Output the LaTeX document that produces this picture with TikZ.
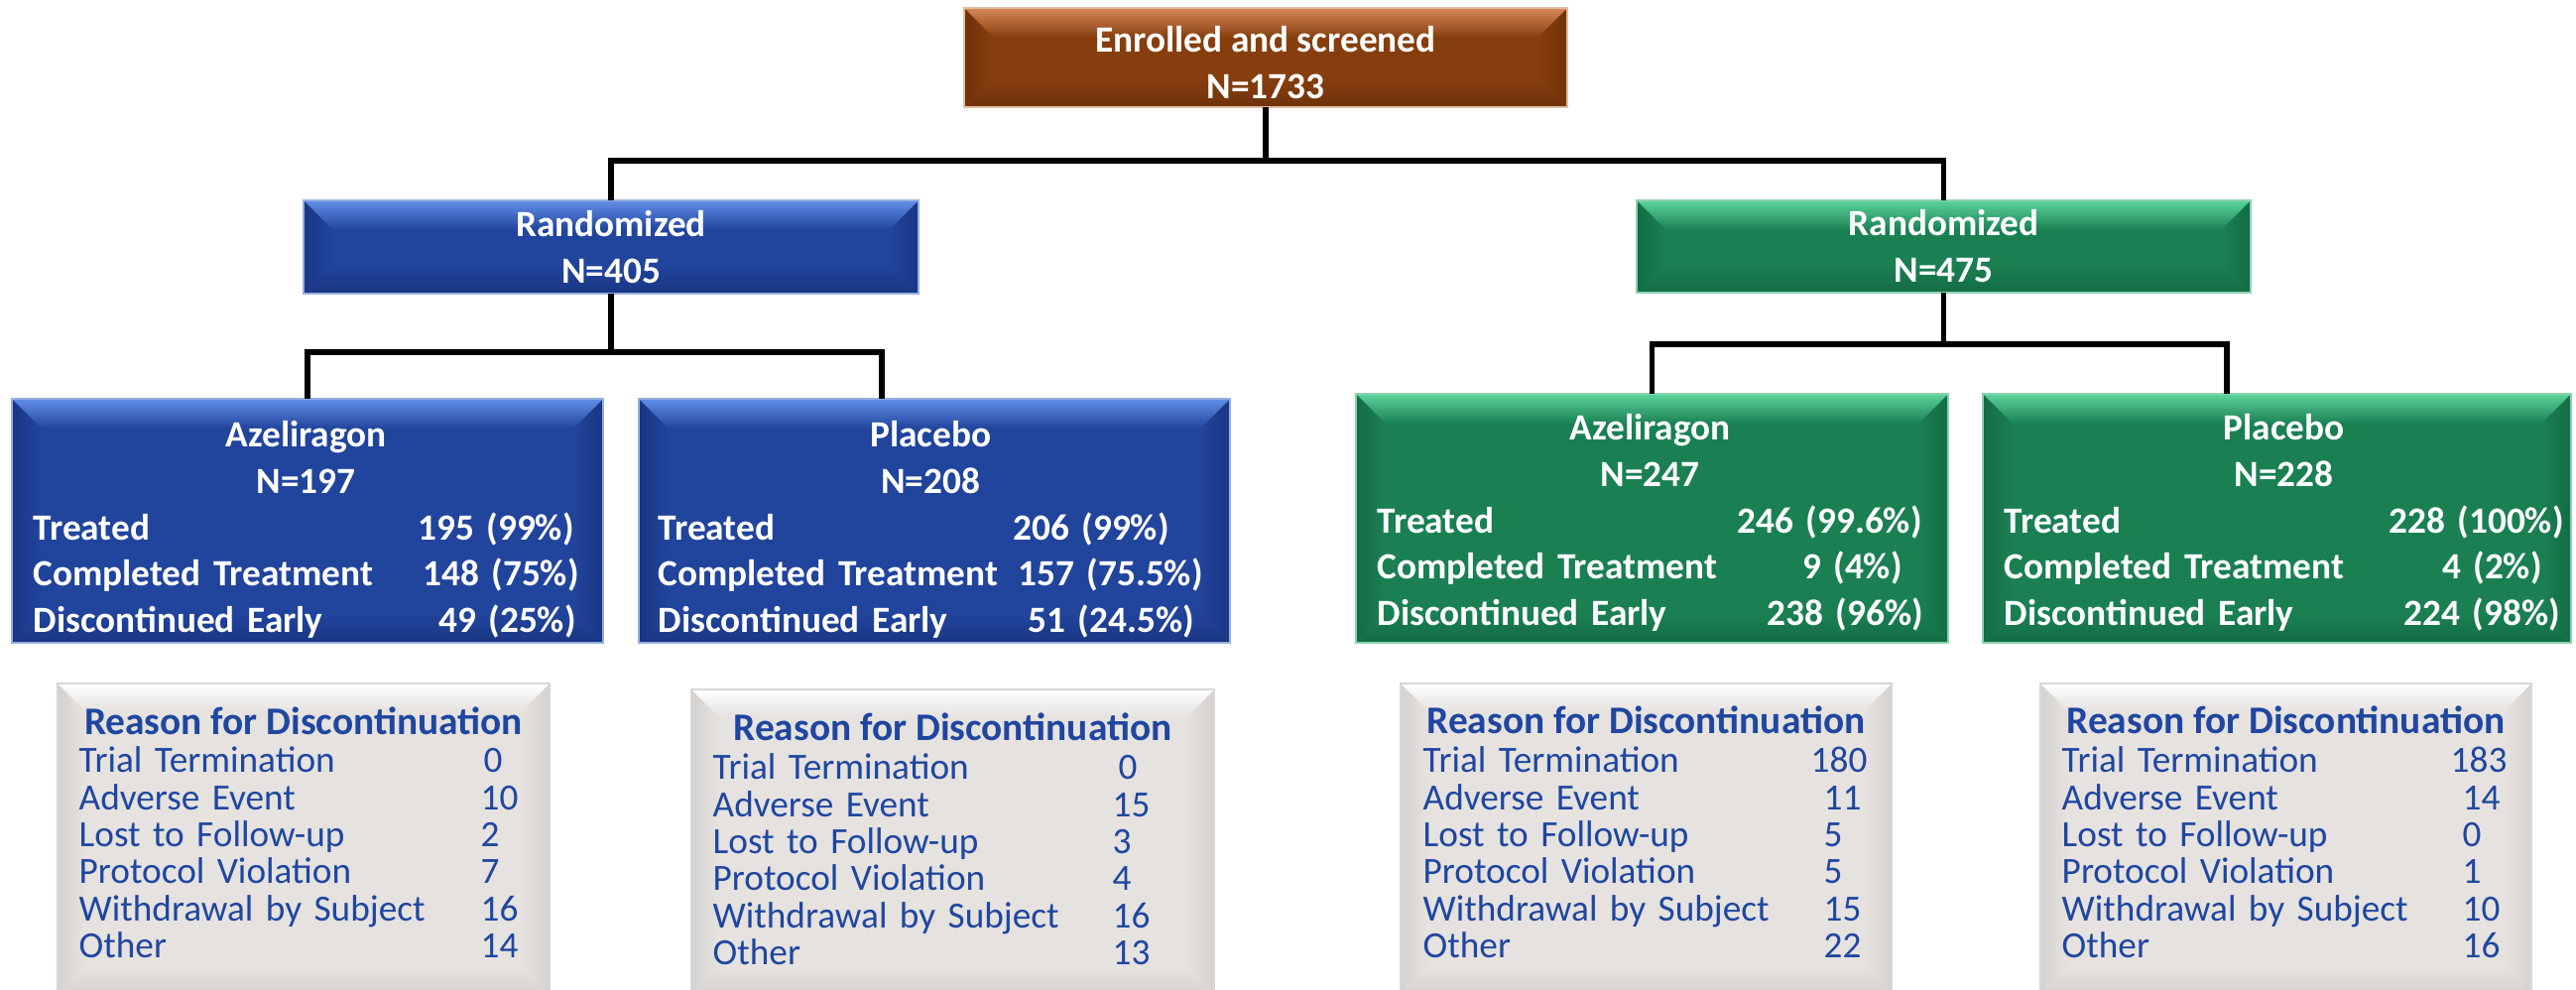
\documentclass[tikz,border=0pt]{standalone}
\usepackage{fontspec}
\setmainfont{Carlito}
\usetikzlibrary{calc}
\newlength\px \setlength\px{0.01cm}
\lineskiplimit=-20pt
\definecolor{bluebody}{RGB}{33,68,156}
\definecolor{bluelight}{RGB}{98,142,232}
\definecolor{bluedark}{RGB}{26,54,132}
\definecolor{blueedge}{RGB}{150,175,225}
\definecolor{greenbody}{RGB}{26,128,82}
\definecolor{greenlight}{RGB}{92,212,155}
\definecolor{greendark}{RGB}{20,108,68}
\definecolor{greenedge}{RGB}{140,210,175}
\definecolor{brownbody}{RGB}{134,62,14}
\definecolor{brownlight}{RGB}{214,136,88}
\definecolor{browndark}{RGB}{112,50,10}
\definecolor{brownedge}{RGB}{225,190,160}
\definecolor{greybody}{RGB}{229,226,223}
\definecolor{greylight}{RGB}{255,255,255}
\definecolor{greydark}{RGB}{212,209,206}
\definecolor{greyedge}{RGB}{215,215,215}
\definecolor{reasonblue}{RGB}{31,70,160}
\tikzset{
  bevel/.style n args={5}{%
    rectangle, inner sep=0pt, outer sep=0pt, fill=#2, draw=#4, line width=1.2\px,
    path picture={
      \coordinate (bnw) at (path picture bounding box.north west);
      \coordinate (bne) at (path picture bounding box.north east);
      \coordinate (bsw) at (path picture bounding box.south west);
      \coordinate (bse) at (path picture bounding box.south east);
      \fill[left color=#3, right color=#2] (bnw) -- ([xshift=#5,yshift=-#5]bnw) -- ([xshift=#5,yshift=#5]bsw) -- (bsw) -- cycle;
      \fill[right color=#3, left color=#2] (bne) -- ([xshift=-#5,yshift=-#5]bne) -- ([xshift=-#5,yshift=#5]bse) -- (bse) -- cycle;
      \fill[top color=#1, bottom color=#2] (bnw) -- (bne) -- ([xshift=-#5,yshift=-#5]bne) -- ([xshift=#5,yshift=-#5]bnw) -- cycle;
      \fill[bottom color=#3, top color=#2] (bsw) -- (bse) -- ([xshift=-#5,yshift=#5]bse) -- ([xshift=#5,yshift=#5]bsw) -- cycle;
    }
  },
  bluebox/.style={bevel={bluelight}{bluebody}{bluedark}{blueedge}{30\px}},
  greenbox/.style={bevel={greenlight}{greenbody}{greendark}{greenedge}{30\px}},
  brownbox/.style={bevel={brownlight}{brownbody}{browndark}{brownedge}{30\px}},
  greybox/.style={bevel={greylight}{greybody}{greydark}{greyedge}{28\px}},
  conn/.style={line width=5.5\px, black},
  wtext/.style={inner sep=0pt, text=white, font=\bfseries\fontsize{10.6}{13.3}\selectfont, align=left},
  ctext/.style={inner sep=0pt, text=white, align=center},
  rhead/.style={inner sep=0pt, text=reasonblue, font=\bfseries\fontsize{11.2}{11.2}\selectfont},
  rtext/.style={inner sep=0pt, text=reasonblue, align=left,
    font=\fontsize{10.6}{10.65}\selectfont},
}
\newcommand\fline[1]{\leavevmode\null\hfill #1\hfill\null}
\newcommand\num[1]{\makebox[60\px][l]{#1}}
\begin{document}
\begin{tikzpicture}[x=0.01cm, y=-0.01cm]
\useasboundingbox (0,0) rectangle (2597,998);

% boxes
\node[brownbox, minimum width=608\px, minimum height=100\px] (top) at (1276,58) {};
\node[bluebox, minimum width=620\px, minimum height=94\px] (rand1) at (616,249) {};
\node[greenbox, minimum width=619\px, minimum height=93\px] (rand2) at (1959.5,248.5) {};
\node[bluebox, minimum width=596\px, minimum height=246\px] (az1) at (310,525) {};
\node[bluebox, minimum width=596\px, minimum height=246\px] (pl1) at (942,525) {};
\node[greenbox, minimum width=597\px, minimum height=251\px] (az2) at (1665.5,522.5) {};
\node[greenbox, minimum width=593\px, minimum height=251\px] (pl2) at (2295.5,522.5) {};
\node[greybox, minimum width=496\px, minimum height=314\px] (g1) at (306,846) {};
\node[greybox, minimum width=527\px, minimum height=308\px] (g2) at (960.5,849) {};
\node[greybox, minimum width=495\px, minimum height=314\px] (g3) at (1659.5,846) {};
\node[greybox, minimum width=495\px, minimum height=314\px] (g4) at (2304.5,846) {};

% top / randomized texts
\node[ctext, font=\bfseries\fontsize{10.6}{13.3}\selectfont, anchor=north] (ttop) at (1276,15)
  {\rule{0pt}{10.6pt}Enrolled and screened\\N=1733};
\node[ctext, font=\bfseries\fontsize{10.6}{13.3}\selectfont, anchor=north] (trand1) at (616,200.6)
  {\rule{0pt}{10.6pt}Randomized\\N=405};
\node[ctext, font=\bfseries\fontsize{10.6}{13.3}\selectfont, anchor=north] (trand2) at (1959.5,199.6)
  {\rule{0pt}{10.6pt}Randomized\\N=475};

% arm texts
\node[wtext, text width=550\px, anchor=north west] (taz1) at (33,412.6) {%
  \rule{0pt}{10.6pt}\fline{Azeliragon}\\
  \fline{N=197}\\
  Treated\hfill 195 (99\%)\kern5\px\null\\
  Completed Treatment\hfill 148 (75\%)\\
  Discontinued Early\hfill 49 (25\%)\kern3\px\null};
\node[wtext, text width=549\px, anchor=north west] (tpl1) at (663,412.6) {%
  \rule{0pt}{10.6pt}\fline{Placebo}\\
  \fline{N=208}\\
  Treated\hfill 206 (99\%)\kern34\px\null\\
  Completed Treatment\hfill 157 (75.5\%)\\
  Discontinued Early\hfill 51 (24.5\%)\kern9\px\null};
\node[wtext, text width=550\px, anchor=north west] (taz2) at (1388,405.6) {%
  \rule{0pt}{10.6pt}\fline{Azeliragon}\\
  \fline{N=247}\\
  Treated\hfill 246 (99.6\%)\kern1\px\null\\
  Completed Treatment\hfill 9 (4\%)\kern21\px\null\\
  Discontinued Early\hfill 238 (96\%)};
\node[wtext, text width=564\px, anchor=north west] (tpl2) at (2020,405.6) {%
  \rule{0pt}{10.6pt}\fline{Placebo}\\
  \fline{N=228}\\
  Treated\hfill 228 (100\%)\\
  Completed Treatment\hfill 4 (2\%)\kern22\px\null\\
  Discontinued Early\hfill 224 (98\%)\kern4\px\null};

% reason boxes
\node[rhead, anchor=base] (h1) at (306,741) {Reason for Discontinuation};
\node[rtext, text width=465\px, anchor=north west] (r1) at (79,740.6) {%
  \rule{0pt}{10.6pt}Trial Termination\hfill\num{\kern3\px 0}\\
  Adverse Event\hfill\num{10}\\
  Lost to Follow-up\hfill\num{2}\\
  Protocol Violation\hfill\num{7}\\
  Withdrawal by Subject\hfill\num{16}\\
  Other\hfill\num{14}};
\node[rhead, anchor=base] (h2) at (960.5,747) {Reason for Discontinuation};
\node[rtext, text width=463\px, anchor=north west] (r2) at (718,747.6) {%
  \rule{0pt}{10.6pt}Trial Termination\hfill\num{\kern6\px 0}\\
  Adverse Event\hfill\num{15}\\
  Lost to Follow-up\hfill\num{3}\\
  Protocol Violation\hfill\num{4}\\
  Withdrawal by Subject\hfill\num{16}\\
  Other\hfill\num{13}};
\node[rhead, anchor=base] (h3) at (1659.5,740) {Reason for Discontinuation};
\node[rtext, text width=464\px, anchor=north west] (r3) at (1434,740.6) {%
  \rule{0pt}{10.6pt}Trial Termination\hfill\num{\kern-13\px 180}\\
  Adverse Event\hfill\num{11}\\
  Lost to Follow-up\hfill\num{5}\\
  Protocol Violation\hfill\num{5}\\
  Withdrawal by Subject\hfill\num{15}\\
  Other\hfill\num{22}};
\node[rhead, anchor=base] (h4) at (2304.5,740) {Reason for Discontinuation};
\node[rtext, text width=464\px, anchor=north west] (r4) at (2078,740.6) {%
  \rule{0pt}{10.6pt}Trial Termination\hfill\num{\kern-12\px 183}\\
  Adverse Event\hfill\num{14}\\
  Lost to Follow-up\hfill\num{0}\\
  Protocol Violation\hfill\num{1}\\
  Withdrawal by Subject\hfill\num{10}\\
  Other\hfill\num{16}};

% connectors
\coordinate (h1y) at (0,162);
\coordinate (h2y) at (0,355);
\coordinate (h3y) at (0,347);
\coordinate (v1) at (889,0);
\coordinate (v2) at (2245,0);
\draw[conn] (top.south) -- (top.south |- h1y);
\draw[conn] (rand1.north) |- (rand2.north |- h1y) -- (rand2.north);
\draw[conn] (rand1.south) -- (rand1.south |- h2y);
\draw[conn] (az1.north) |- (v1 |- h2y) -- (v1 |- pl1.north);
\draw[conn] (rand2.south) -- (rand2.south |- h3y);
\draw[conn] (az2.north) |- (v2 |- h3y) -- (v2 |- pl2.north);
\end{tikzpicture}
\end{document}
